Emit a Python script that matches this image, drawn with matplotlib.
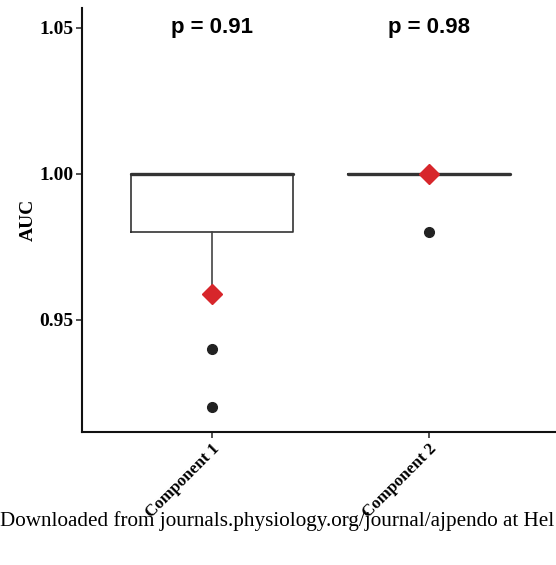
import matplotlib
matplotlib.use("Agg")
import matplotlib.pyplot as plt

# boxplot stats
groups = ["Component 1", "Component 2"]
q1 = [0.98, 1.00]
med = [1.00, 1.00]
q3 = [1.00, 1.00]
whis_lo = [0.96, 1.00]
whis_hi = [1.00, 1.00]
outliers = [[0.94, 0.92], [0.98]]
diamond = [0.959, 1.00]          # red diamonds
p_labels = ["p = 0.91", "p = 0.98"]
yticks = [0.95, 1.00, 1.05]

fig = plt.figure(figsize=(5.56, 5.65), dpi=100)
ax = fig.add_axes([0.1475, 0.2354, 0.8525, 0.7504])

stats = []
for i in range(len(groups)):
    stats.append(dict(label=groups[i], med=med[i], q1=q1[i], q3=q3[i],
                      whislo=whis_lo[i], whishi=whis_hi[i], fliers=[]))
pos = list(range(1, len(groups) + 1))
ax.bxp(stats, positions=pos, widths=0.75, showcaps=False, showfliers=False,
       boxprops=dict(color="#333333", linewidth=1.2),
       whiskerprops=dict(color="#444444", linewidth=1.2),
       medianprops=dict(color="#333333", linewidth=2.4, solid_capstyle="round"))

for i in range(len(groups)):
    ax.plot([pos[i]] * len(outliers[i]), outliers[i], "o", color="#222222",
            markersize=7, zorder=3)
ax.plot(pos, diamond, "D", color="#D7262B", markersize=10.5, zorder=4,
        linestyle="none")

for i in range(len(groups)):
    ax.text(pos[i], 1.05, p_labels[i], ha="center", va="center",
            fontsize=16, fontweight="bold", family="Liberation Sans")

ax.set_xlim(0.401, 2.585)
ax.set_ylim(0.9116, 1.0568)
ax.set_yticks(yticks)
ax.set_yticklabels(["%.2f" % v for v in yticks], family="Liberation Serif",
                   fontweight="bold", fontsize=14)
ax.set_xticks(pos)
ax.set_xticklabels(groups, rotation=45, ha="right", va="top",
                   rotation_mode="anchor",
                   family="Liberation Serif", fontweight="bold", fontsize=12.2)
ax.set_ylabel("AUC", family="Liberation Serif", fontweight="bold", fontsize=14,
              labelpad=2)

for s in ["top", "right"]:
    ax.spines[s].set_visible(False)
for s in ["left", "bottom"]:
    ax.spines[s].set_linewidth(1.5)
    ax.spines[s].set_color("#111111")
ax.tick_params(length=4, width=1.2, color="#333333", pad=2)

fig.text(0.0, 0.078, "Downloaded from journals.physiology.org/journal/ajpendo at Hel",
         family="Liberation Serif", fontsize=15.2, ha="left", va="center")

fig.savefig("out.png", dpi=100)
